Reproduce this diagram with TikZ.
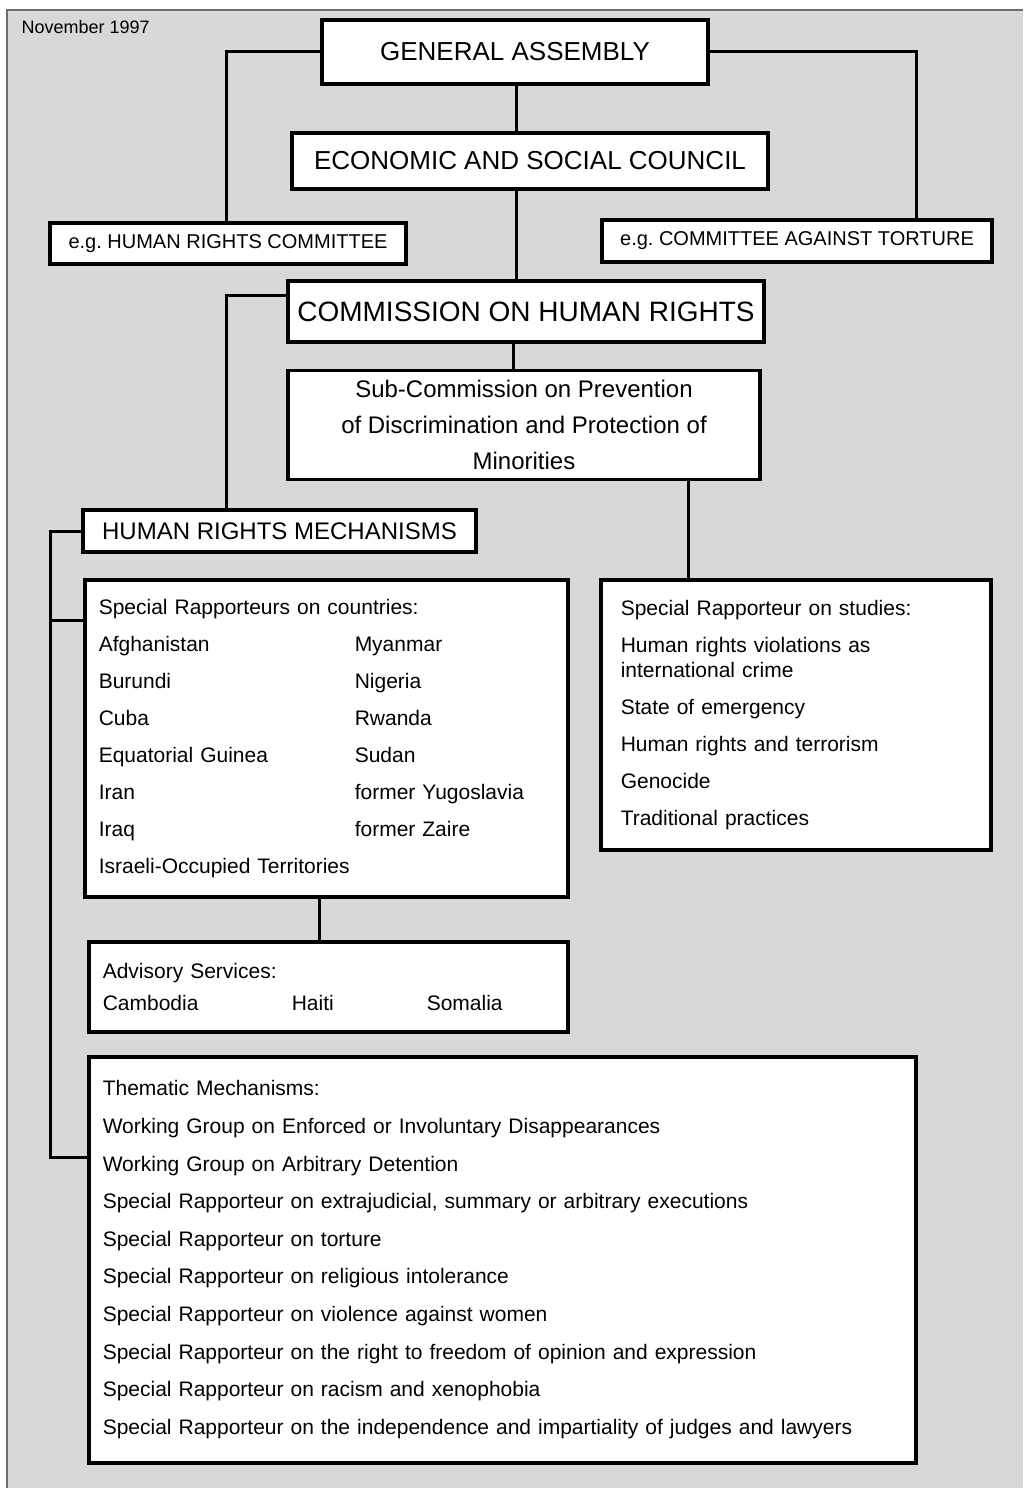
\documentclass[tikz,border=0pt]{standalone}
\usepackage{fontspec}
\setmainfont{Liberation Sans}
\usepackage{tikz}
\usetikzlibrary{positioning,calc}
\definecolor{Panel}{HTML}{D8D8D8}
\definecolor{Frame}{HTML}{6E6E6E}
\newcommand{\fs}[2]{\fontsize{#1}{#2}\selectfont}
\newcommand{\col}[2]{\makebox[#1][l]{#2}}

\begin{document}
\begin{tikzpicture}[x=1pt,y=-1pt,
    unitbox/.style={draw=black,fill=white,line width=3.5pt,inner sep=0pt,align=center},
    listbox/.style={draw=black,fill=white,line width=3.5pt,anchor=north west,align=left,inner xsep=14pt,inner ysep=0pt},
    link/.style={draw=black,line width=3pt}
]
\useasboundingbox (0,0) rectangle (1023,1488);
\fill[Panel] (7,10) rectangle (1023,1488);
\draw[Frame,line width=1.2pt] (7,1488) -- (7,10) -- (1023,10);
\node[anchor=west,font=\fs{18}{20}] (date) at (18,27) {November 1997};

% top of the hierarchy
\node[unitbox,minimum width=386pt,minimum height=64pt,font=\fs{26}{30}] (ga) at (515,52) {GENERAL ASSEMBLY};
\node[unitbox,minimum width=476pt,minimum height=56pt,font=\fs{26}{30}] (ecosoc) at (530,161) {ECONOMIC AND SOCIAL COUNCIL};
\node[unitbox,minimum width=356pt,minimum height=41pt,font=\fs{20}{24}] (hrc) at (228,243.5) {e.g.\ HUMAN RIGHTS COMMITTEE};
\node[unitbox,minimum width=390pt,minimum height=42pt,font=\fs{20}{24}] (cat) at (797,241) {e.g.\ COMMITTEE AGAINST TORTURE};
\node[unitbox,minimum width=476pt,minimum height=61pt,font=\fs{28}{30}] (chr) at (526,311.5) {COMMISSION ON HUMAN RIGHTS};
\node[unitbox,minimum width=472pt,minimum height=109pt,font=\fs{24}{36}] (sub) at (524,425)
    {Sub-Commission on Prevention\\of Discrimination and Protection of\\Minorities};
\node[unitbox,minimum width=393pt,minimum height=42pt,font=\fs{24}{26}] (hrm) at (279.5,531) {HUMAN RIGHTS MECHANISMS};

% mechanisms
\node[listbox,minimum width=483pt,minimum height=317pt,text width=455pt,font=\fs{21}{37}] (countries) at (83,578)
    {Special Rapporteurs on countries:\\
     \col{256pt}{Afghanistan}Myanmar\\
     \col{256pt}{Burundi}Nigeria\\
     \col{256pt}{Cuba}Rwanda\\
     \col{256pt}{Equatorial Guinea}Sudan\\
     \col{256pt}{Iran}former Yugoslavia\\
     \col{256pt}{Iraq}former Zaire\\
     Israeli-Occupied Territories};
\node[listbox,minimum width=390pt,minimum height=270pt,text width=350pt,inner xsep=20pt,font=\fs{21}{37}] (studies) at (599,578)
    {Special Rapporteur on studies:\\
     Human rights violations as\\[-12pt]
     international crime\\
     State of emergency\\
     Human rights and terrorism\\
     Genocide\\
     Traditional practices};
\node[listbox,minimum width=479pt,minimum height=90pt,text width=451pt,font=\fs{21}{32}] (advisory) at (87,940)
    {Advisory Services:\\
     \col{189pt}{Cambodia}\col{135pt}{Haiti}Somalia};
\node[listbox,minimum width=827pt,minimum height=406pt,text width=799pt,font=\fs{21}{37.6}] (thematic) at (87,1055)
    {Thematic Mechanisms:\\
     Working Group on Enforced or Involuntary Disappearances\\
     Working Group on Arbitrary Detention\\
     Special Rapporteur on extrajudicial, summary or arbitrary executions\\
     Special Rapporteur on torture\\
     Special Rapporteur on religious intolerance\\
     Special Rapporteur on violence against women\\
     Special Rapporteur on the right to freedom of opinion and expression\\
     Special Rapporteur on racism and xenophobia\\
     Special Rapporteur on the independence and impartiality of judges and lawyers};

% joints of the lines
\coordinate (spine) at (516,0);
\coordinate (catx) at (916,0);
\coordinate (chrx) at (513,0);
\coordinate (leftx) at (226,0);
\coordinate (subx) at (688,0);
\coordinate (rail) at (50,0);
\coordinate (advx) at (319,0);

\draw[link] (ga.west) -| (hrc.north -| leftx);
\draw[link] (ga.east) -| (cat.north -| catx);
\draw[link] (ga.south -| spine) -- (ecosoc.north -| spine);
\draw[link] (ecosoc.south -| spine) -- (chr.north -| spine);
\draw[link] (chr.south -| chrx) -- (sub.north -| chrx);
\draw[link] ([yshift=16pt]chr.west) -| (hrm.north -| leftx);
\draw[link] (sub.south -| subx) -- (studies.north -| subx);
\draw[link] (hrm.west) -| ($(rail)+(0,1157)$) -- ($(thematic.west |- 0,1157)$);
\draw[link] ($(rail)+(0,620)$) -- ($(countries.west |- 0,620)$);
\draw[link] (countries.south -| advx) -- (advisory.north -| advx);
\end{tikzpicture}
\end{document}
